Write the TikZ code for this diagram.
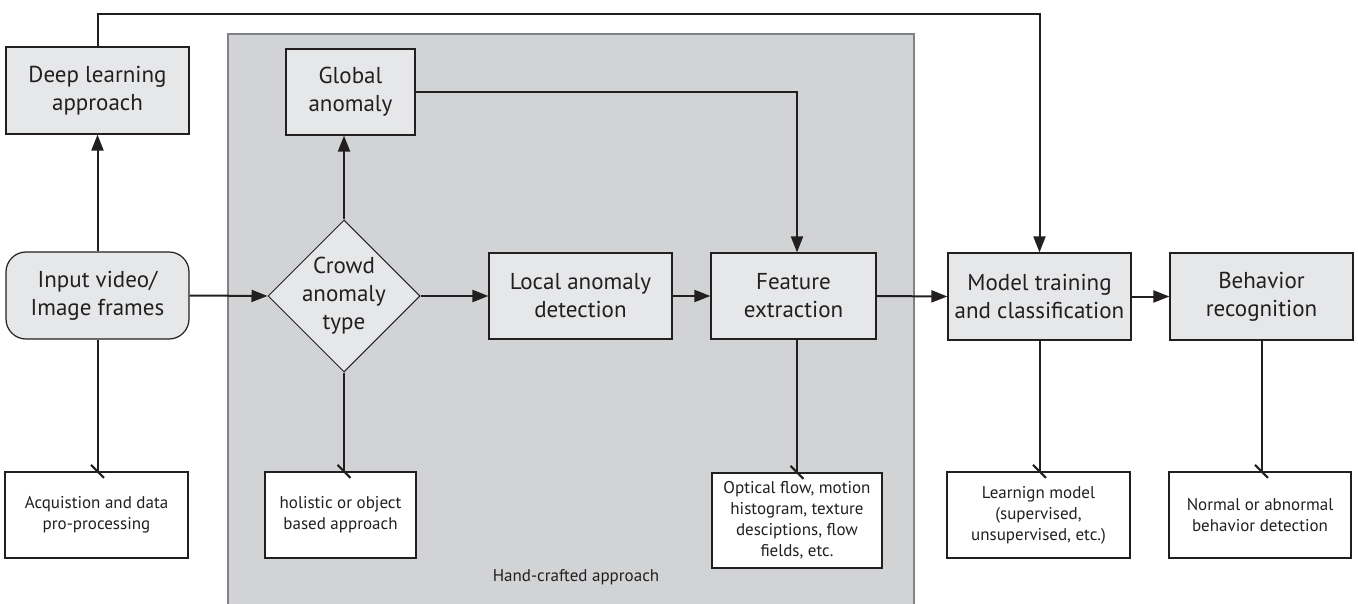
\documentclass[tikz,border=0pt]{standalone}
\usepackage{fontspec}
\setmainfont{PT Sans}
\usetikzlibrary{shapes.geometric, arrows.meta, positioning, calc}
\definecolor{boxgray}{HTML}{E6E7E8}
\definecolor{zonegray}{HTML}{D1D3D4}
\definecolor{zoneedge}{HTML}{808285}
\definecolor{inkdark}{HTML}{231F20}

\begin{document}
\begin{tikzpicture}[x=1pt, y=-1pt,
  stage/.style={draw=inkdark, line width=1.2pt, fill=boxgray, text=inkdark, align=center,
    font=\fontsize{23}{28}\selectfont, inner sep=0pt, minimum width=183pt, minimum height=87pt},
  note/.style={draw=inkdark, line width=1.2pt, fill=white, text=inkdark, align=center,
    font=\fontsize{17}{21}\selectfont, inner sep=0pt, minimum width=183pt, minimum height=86pt},
  flow/.style={draw=inkdark, line width=2pt, -{Triangle[length=16pt,width=12pt]}},
  link/.style={draw=inkdark, line width=2pt}
]
\useasboundingbox (0,0) rectangle (1358,604);

% Hand-crafted zone
\fill[zonegray] (228,34) rectangle (914,604);
\draw[zoneedge, line width=1.5pt] (228,604) |- (914,34) -- (914,604);
\node[font=\fontsize{17}{21}\selectfont, text=inkdark] (handlbl) at (576,577) {Hand-crafted approach};

% Main stages
\node[stage] (deep) at (97.5,90.5) {Deep learning\\approach};
\node[stage, rounded corners=20pt] (input) at (97.5,295.5) {Input video/\\Image frames};
\node[stage, minimum width=129pt, minimum height=86pt] (global) at (350.5,92) {Global\\anomaly};
\node[stage, diamond, line width=1pt, inner sep=-12pt, minimum width=152pt, minimum height=152pt] (crowd) at (344,296) {Crowd\\anomaly\\type};
\node[stage, minimum height=86pt] (local) at (580.5,296) {Local anomaly\\detection};
\node[stage, minimum width=165pt, minimum height=86pt] (feature) at (793.5,296) {Feature\\extraction};
\node[stage] (model) at (1039.5,296.5) {Model training\\and classification};
\node[stage] (behavior) at (1261.5,296.5) {Behavior\\recognition};

% Notes below
\node[note] (acq) at (96.5,515) {Acquistion and data\\pro-processing};
\node[note, minimum width=151pt] (holistic) at (340.5,515) {holistic or object\\based approach};
\node[note, minimum width=170pt, minimum height=95pt] (optical) at (797,520.5) {Optical flow, motion\\histogram, texture\\desciptions, flow\\fields, etc.};
\node[note] (learn) at (1038.5,515) {Learnign model\\(supervised,\\unsupervised, etc.)};
\node[note, minimum width=182pt] (normal) at (1260,515) {Normal or abnormal\\behavior detection};

% Arrows
\coordinate (topline) at (0,14);
\draw[flow] (deep.north) |- (topline -| model.north) -- (model.north);
\draw[flow] (input.north) -- (deep.south);
\draw[flow] (input.east) -- (crowd.west);
\draw[flow] (crowd.north) -- (crowd.north |- global.south);
\draw[flow] (crowd.east) -- (local.west);
\draw[flow] (local.east) -- (feature.west);
\draw[flow] (global.east) -| (optical.north |- feature.north);
\draw[flow] (feature.east) -- (model.west);
\draw[flow] (model.east) -- (behavior.west);

% Links to notes, with slash ends
\coordinate (acqtop) at (input.south |- acq.north);
\coordinate (holtop) at (crowd.south |- holistic.north);
\coordinate (opttop) at (optical.north);
\coordinate (learntop) at (model.south |- learn.north);
\coordinate (normtop) at (behavior.south |- normal.north);
\draw[link] (input.south) -- (acqtop);
\draw[link] (crowd.south) -- (holtop);
\draw[link] (optical.north |- feature.south) -- (opttop);
\draw[link] (model.south) -- (learntop);
\draw[link] (behavior.south) -- (normtop);
\foreach \e in {acqtop, holtop, opttop, learntop, normtop}
  \draw[link] ([shift={(-6.5,-6.5)}]\e) -- ([shift={(6.5,6.5)}]\e);
\end{tikzpicture}
\end{document}
